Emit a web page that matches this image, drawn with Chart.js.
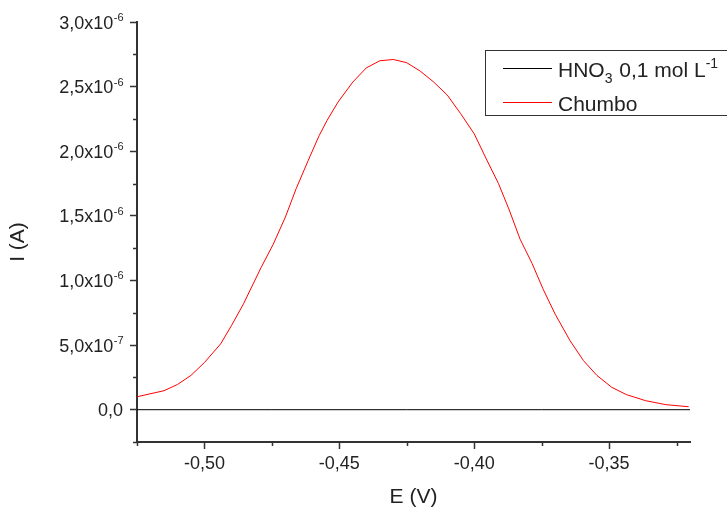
<!DOCTYPE html>
<html><head><meta charset="utf-8">
<script src="https://cdn.jsdelivr.net/npm/chart.js@4.4.1/dist/chart.umd.min.js"></script>
<style>html,body{margin:0;padding:0;background:#fff}#wrap{width:727px;height:508px;position:relative}</style>
</head><body><div id="wrap"><canvas id="c" width="727" height="508"></canvas></div>
<script>
// ---- data ----
const potentialV = [-0.525,-0.515,-0.510,-0.505,-0.500,-0.494,-0.490,-0.4855,-0.479,-0.4745,-0.470,-0.466,-0.4615,-0.4575,-0.4545,-0.4505,-0.445,-0.440,-0.435,-0.430,-0.425,-0.420,-0.415,-0.410,-0.405,-0.400,-0.3955,-0.391,-0.387,-0.383,-0.3785,-0.3745,-0.370,-0.3645,-0.3595,-0.3545,-0.349,-0.3435,-0.3365,-0.329,-0.3205];
const leadCurrentA = [1.00e-7,1.47e-7,1.95e-7,2.65e-7,3.65e-7,5.09e-7,6.50e-7,8.20e-7,1.10e-6,1.28e-6,1.49e-6,1.71e-6,1.93e-6,2.12e-6,2.24e-6,2.38e-6,2.535e-6,2.645e-6,2.70e-6,2.71e-6,2.685e-6,2.62e-6,2.535e-6,2.435e-6,2.29e-6,2.135e-6,1.94e-6,1.75e-6,1.545e-6,1.32e-6,1.13e-6,9.35e-7,7.40e-7,5.35e-7,3.80e-7,2.65e-7,1.73e-7,1.16e-7,7.0e-8,3.9e-8,2.3e-8];
const blankPotentialV = [-0.525,-0.475,-0.425,-0.375,-0.320];
const blankCurrentA = [0,0,0,0,0];
const seriesLabels = ['HNO\u2083 0,1 mol L\u207B\u00B9','Chumbo'];
// legend label pieces: [text, kind] kind: n=normal, sub, sup
const legendPieces = [
  [['HNO','n'],['3','sub'],[' 0,1 mol L','n'],['-1','sup']],
  [['Chumbo','n']]
];
const xMajorTicks = [-0.50,-0.45,-0.40,-0.35];
const xTickLabels = ['-0,50','-0,45','-0,40','-0,35'];
const xMinorTicks = [-0.525,-0.475,-0.425,-0.375,-0.325];
const yMajorTicks = [0,5e-7,1e-6,1.5e-6,2e-6,2.5e-6,3e-6];
const yTickMantissas = ['0,0','5,0x10','1,0x10','1,5x10','2,0x10','2,5x10','3,0x10'];
const yTickExponents = ['','-7','-6','-6','-6','-6','-6'];
const yMinorTicks = [-2.5e-7,2.5e-7,7.5e-7,1.25e-6,1.75e-6,2.25e-6,2.75e-6];
const xTitle = 'E (V)';
const yTitle = 'I (A)';

const FONT = '"Liberation Sans", Arial, sans-serif';
const TXT = '#222';
const AX = '#333';

const extras = {
  id: 'extras',
  afterDraw(chart) {
    const ctx = chart.ctx, xs = chart.scales.x, ys = chart.scales.y, ca = chart.chartArea;
    ctx.save();
    // minor ticks
    ctx.strokeStyle = AX; ctx.lineWidth = 1.5;
    ctx.beginPath();
    xMinorTicks.forEach(v => { const px = Math.round(xs.getPixelForValue(v)) + 0.5; ctx.moveTo(px, ca.bottom); ctx.lineTo(px, ca.bottom + 4); });
    yMinorTicks.forEach(v => { const py = Math.round(ys.getPixelForValue(v)) + 0.5; ctx.moveTo(ca.left, py); ctx.lineTo(ca.left - 4, py); });
    ctx.stroke();
    // y tick labels with superscript exponents
    ctx.fillStyle = TXT; ctx.textAlign = 'left'; ctx.textBaseline = 'alphabetic';
    yMajorTicks.forEach((v, i) => {
      const py = ys.getPixelForValue(v);
      ctx.font = '18px ' + FONT;
      const w1 = ctx.measureText(yTickMantissas[i]).width;
      ctx.font = '11px ' + FONT;
      const w2 = yTickExponents[i] ? ctx.measureText(yTickExponents[i]).width : 0;
      const x0 = 123 - w1 - w2;
      const base = py + 6.5;
      ctx.font = '18px ' + FONT;
      ctx.fillText(yTickMantissas[i], x0, base);
      if (yTickExponents[i]) { ctx.font = '11px ' + FONT; ctx.fillText(yTickExponents[i], x0 + w1 + 0.5, base - 7.5); }
    });
    // axis titles
    ctx.font = '21px ' + FONT;
    ctx.textAlign = 'center';
    ctx.fillText(xTitle, (ca.left + ca.right) / 2, 503);
    ctx.save();
    ctx.translate(24, 242);
    ctx.rotate(-Math.PI / 2);
    ctx.fillText(yTitle, 0, 0);
    ctx.restore();
    // legend
    ctx.fillStyle = '#fff';
    ctx.fillRect(485.5, 50.5, 260, 65);
    ctx.strokeStyle = AX; ctx.lineWidth = 1;
    ctx.strokeRect(485.5, 50.5, 260, 65);
    const rows = [{y: 68.5, base: 76.5}, {y: 102.5, base: 110.5}];
    ctx.textAlign = 'left';
    rows.forEach((r, k) => {
      const ds = chart.data.datasets[k];
      ctx.strokeStyle = ds.borderColor; ctx.lineWidth = 1;
      ctx.beginPath(); ctx.moveTo(503, r.y); ctx.lineTo(552, r.y); ctx.stroke();
      ctx.fillStyle = TXT;
      let x = 558;
      legendPieces[k].forEach(([t, kind]) => {
        let size = 21, dy = 0, gap = 0;
        if (kind === 'sub') { size = 14; dy = 6; gap = 1; }
        if (kind === 'sup') { size = 14; dy = -9; }
        ctx.font = size + 'px ' + FONT;
        ctx.fillText(t, x, r.base + dy);
        x += ctx.measureText(t).width + gap;
      });
    });
    ctx.restore();
  }
};

new Chart(document.getElementById('c'), {
  type: 'line',
  data: {
    datasets: [
      { label: seriesLabels[0], data: blankPotentialV.map((x, i) => ({x, y: blankCurrentA[i]})), borderColor: '#000', borderWidth: 1, pointRadius: 0, tension: 0 },
      { label: seriesLabels[1], data: potentialV.map((x, i) => ({x, y: leadCurrentA[i]})), borderColor: '#ff0000', borderWidth: 1, pointRadius: 0, tension: 0 }
    ]
  },
  options: {
    responsive: false, animation: false, devicePixelRatio: 1,
    layout: { padding: { top: 22, right: 37, left: 0, bottom: 0 } },
    plugins: { legend: { display: false }, tooltip: { enabled: false } },
    scales: {
      x: {
        type: 'linear', min: -0.525, max: -0.32,
        afterFit(s) { s.height = 66; },
        afterBuildTicks(s) { s.ticks = xMajorTicks.map(v => ({value: v})); },
        border: { display: true, color: AX, width: 2 },
        grid: { drawOnChartArea: false, drawTicks: true, tickLength: 7, tickColor: AX, tickWidth: 1.5 },
        ticks: { autoSkip: false, maxRotation: 0, padding: 4, color: TXT, font: { family: FONT, size: 18 },
          callback: (v, i) => xTickLabels[i] }
      },
      y: {
        type: 'linear', min: -2.5e-7, max: 3e-6,
        afterFit(s) { s.width = 137; },
        afterBuildTicks(s) { s.ticks = yMajorTicks.map(v => ({value: v})); },
        border: { display: true, color: AX, width: 2 },
        grid: { drawOnChartArea: false, drawTicks: true, tickLength: 7, tickColor: AX, tickWidth: 1.5 },
        ticks: { display: false, autoSkip: false }
      }
    }
  },
  plugins: [extras]
});
</script></body></html>
